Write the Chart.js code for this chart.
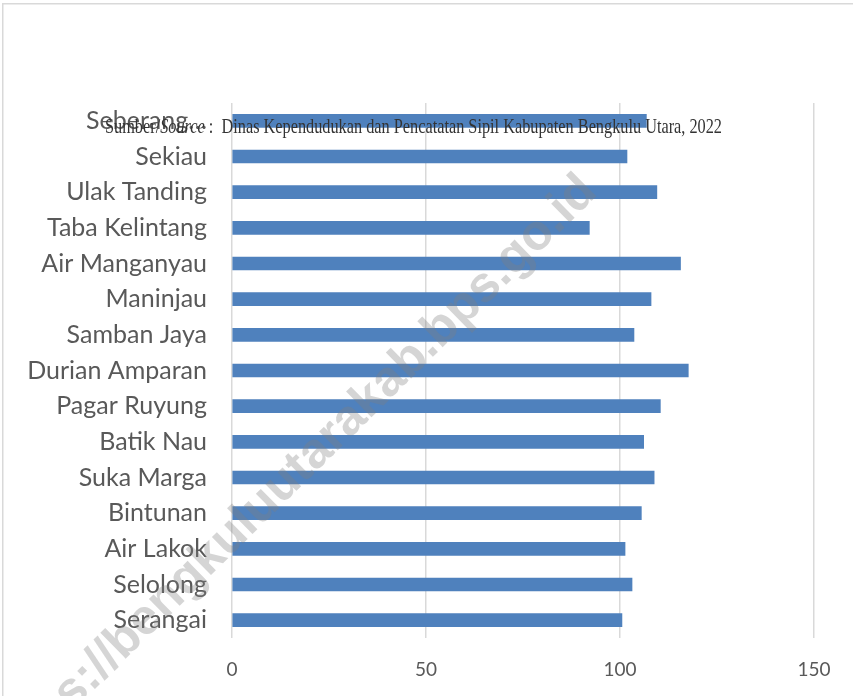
<!DOCTYPE html>
<html>
<head>
<meta charset="utf-8">
<script src="https://cdn.jsdelivr.net/npm/chart.js@4/dist/chart.umd.min.js"></script>
<style>
html,body{margin:0;padding:0;background:#fff;}
#wrap{width:853px;height:696px;position:relative;}
</style>
</head>
<body>
<div id="wrap"><canvas id="c" width="853" height="696"></canvas></div>
<script>
const categories = ["Seberang…","Sekiau","Ulak Tanding","Taba Kelintang","Air Manganyau","Maninjau","Samban Jaya","Durian Amparan","Pagar Ruyung","Batik Nau","Suka Marga","Bintunan","Air Lakok","Selolong","Serangai"];
const values = [106.8,101.8,109.5,92.1,115.6,108.0,103.6,117.6,110.4,106.1,108.8,105.5,101.3,103.1,100.5];
const xTicks = [0,50,100,150];
const sourceParts = [["Sumber/",false],["Source",true],[" :  Dinas Kependudukan dan Pencatatan Sipil Kabupaten Bengkulu Utara, 2022",false]];
const watermark = "https://bengkuluutarakab.bps.go.id";

const overlay = {
  id:'overlay',
  beforeDraw(chart){
    const ctx = chart.ctx;
    ctx.save();
    ctx.fillStyle='#fff';
    ctx.fillRect(0,0,chart.width,chart.height);
    ctx.strokeStyle='#d9d9d9';
    ctx.lineWidth=1.5;
    ctx.strokeRect(2.75,3.75,1000,1000);
    ctx.restore();
  },
  afterDraw(chart){
    const ctx = chart.ctx;
    // source text
    ctx.save();
    ctx.fillStyle='#333333';
    ctx.textBaseline='alphabetic';
    let total=0;
    const fs=21;
    sourceParts.forEach(p=>{ctx.font=(p[1]?'italic ':'')+fs+'px "Liberation Serif"'; total+=ctx.measureText(p[0]).width;});
    const target=617, sx=target/total;
    ctx.translate(105,133);
    ctx.scale(sx,1);
    let x=0;
    sourceParts.forEach(p=>{ctx.font=(p[1]?'italic ':'')+fs+'px "Liberation Serif"'; ctx.fillText(p[0],x,0); x+=ctx.measureText(p[0]).width;});
    ctx.restore();
    // watermark
    ctx.save();
    ctx.translate(292,476);
    ctx.rotate(-44.5*Math.PI/180);
    ctx.font='bold 50px "Liberation Sans"';
    ctx.textAlign='center';
    ctx.textBaseline='middle';
    ctx.fillStyle='rgba(128,128,128,0.33)';
    ctx.fillText(watermark,0,0);
    ctx.restore();
  }
};

new Chart(document.getElementById('c'),{
  type:'bar',
  data:{labels:categories,datasets:[{data:values,backgroundColor:'#4F81BD',borderWidth:0,barThickness:13}]},
  options:{
    indexAxis:'y',
    responsive:false,
    animation:false,
    layout:{padding:{left:0,right:39,top:103,bottom:8}},
    plugins:{legend:{display:false},tooltip:{enabled:false}},
    scales:{
      x:{min:0,max:150,
        afterBuildTicks(s){s.ticks=xTicks.map(v=>({value:v}));},
        afterFit(s){s.height=696-8-638;},
        grid:{color:'#d9d9d9',lineWidth:1.5,drawTicks:false},
        border:{display:false},
        ticks:{color:'#595959',font:{family:'Lato',size:19},padding:20}
      },
      y:{
        afterFit(s){s.width=232;},
        grid:{display:false,drawTicks:false},
        border:{display:false},
        ticks:{color:'#595959',font:{family:'Lato',size:25},padding:25,autoSkip:false}
      }
    }
  },
  plugins:[overlay]
});
</script>
</body>
</html>
